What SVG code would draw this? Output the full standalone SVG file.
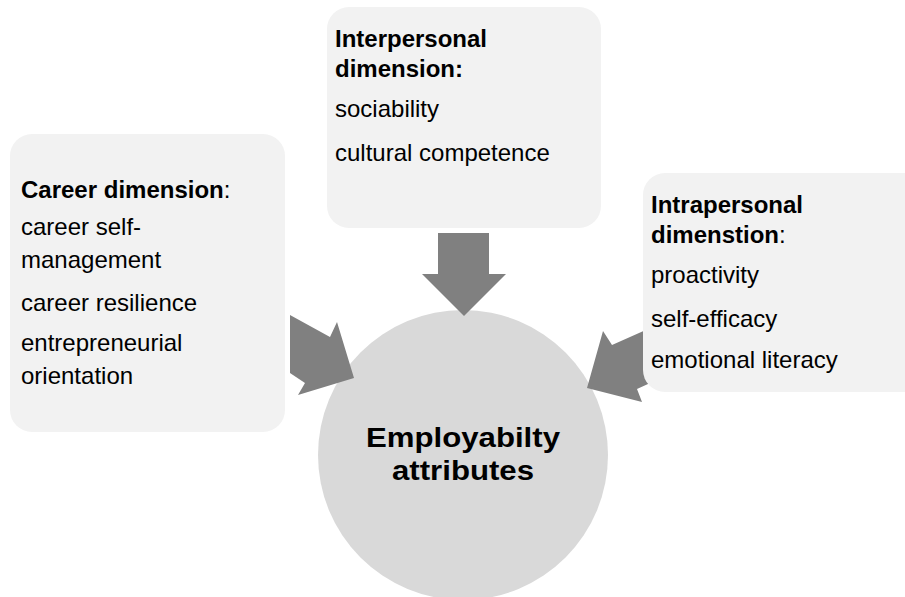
<svg xmlns="http://www.w3.org/2000/svg" width="905" height="597" viewBox="0 0 905 597">
<style>
.box{fill:#f2f2f2;}
.t{font-family:"Liberation Sans",Arial,sans-serif;font-size:24px;fill:#000;}
.b{font-weight:bold;}
.arrow{fill:#808080;}
.hub{fill:#d9d9d9;}
.ht{font-family:"Liberation Sans",Arial,sans-serif;font-size:28px;font-weight:bold;fill:#000;text-anchor:middle;}
</style>
<rect width="905" height="597" fill="#ffffff"/>
<g id="hub">
<circle class="hub" cx="463" cy="455" r="145"/>
<text class="ht" x="463" y="447" textLength="194" lengthAdjust="spacingAndGlyphs">Employabilty</text>
<text class="ht" x="463" y="480" textLength="142" lengthAdjust="spacingAndGlyphs">attributes</text>
</g>
<g id="connectors">
<polygon class="arrow" points="438,233 489,233 489,274 506,274 464,316 422,274 438,274"/>
<polygon class="arrow" points="290,315 330,337 337,322 354,378 298,395 305,383 290,373"/>
<polygon class="arrow" points="648,329 612,345 603,331 587,388 642,402 637,389 648,384"/>
</g>
<g id="career">
<rect class="box" x="10" y="134" width="275" height="298" rx="22"/>
<text class="t" x="21" y="198"><tspan class="b">Career dimension</tspan>:</text>
<text class="t" x="21" y="235">career self-</text>
<text class="t" x="21" y="268">management</text>
<text class="t" x="21" y="311">career resilience</text>
<text class="t" x="21" y="351">entrepreneurial</text>
<text class="t" x="21" y="384">orientation</text>
</g>
<g id="interpersonal">
<rect class="box" x="327" y="7" width="274" height="221" rx="22"/>
<text class="t b" x="335" y="47">Interpersonal</text>
<text class="t b" x="335" y="77">dimension:</text>
<text class="t" x="335" y="117">sociability</text>
<text class="t" x="335" y="161">cultural competence</text>
</g>
<g id="intrapersonal">
<rect class="box" x="643" y="173" width="285" height="219" rx="22"/>
<text class="t" x="651" y="213"><tspan class="b">Intrapersonal</tspan></text>
<text class="t" x="651" y="243"><tspan class="b">dimenstion</tspan>:</text>
<text class="t" x="651" y="283">proactivity</text>
<text class="t" x="651" y="327">self-efficacy</text>
<text class="t" x="651" y="368">emotional literacy</text>
</g>
</svg>
